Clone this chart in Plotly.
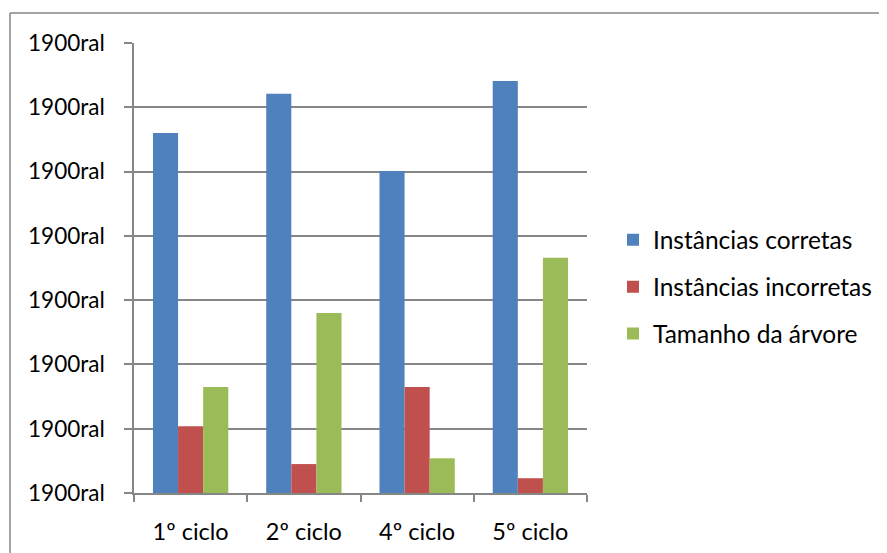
import plotly.graph_objects as go

categories = ["1º ciclo", "2º ciclo", "4º ciclo", "5º ciclo"]
corretas = [5.6, 6.21, 5.01, 6.41]
incorretas = [1.04, 0.45, 1.65, 0.23]
tamanho = [1.65, 2.80, 0.54, 3.66]
tick_vals = [0, 1, 2, 3, 4, 5, 6, 7]
tick_text = ["1900ral"] * 8

FONT = "Lato"
GRID = "#868686"

# page body has an 8px margin; the figure's right/bottom simply fall off-screen
W, H = 887, 553
L, T, R, B = 126, 35, 308, 68
PW, PH = W - L - R, H - T - B

fig = go.Figure()
for name, vals, col, grp in [
    ("Instâncias corretas", corretas, "#4F81BD", "a"),
    ("Instâncias incorretas", incorretas, "#C0504D", "b"),
    ("Tamanho da árvore", tamanho, "#9BBB59", "c"),
]:
    fig.add_trace(go.Bar(x=categories, y=vals, name=name, marker_color=col,
                         marker_line_width=0, legendgroup=grp))

fig.update_layout(
    width=W, height=H,
    margin=dict(l=L, r=R, t=T, b=B, pad=0, autoexpand=False),
    paper_bgcolor="white", plot_bgcolor="white",
    barmode="group", bargap=0.335, bargroupgap=0,
    font=dict(family=FONT, size=22, color="black"),
    legend=dict(x=(605 - L) / PW, xanchor="left", y=0.458, yanchor="middle",
                font=dict(family=FONT, size=24.5, color="black"),
                tracegroupgap=12, itemwidth=30),
    showlegend=True,
    xaxis=dict(showline=True, linecolor=GRID, linewidth=1.5,
               ticks="outside", tickson="boundaries", ticklen=7,
               tickcolor=GRID, tickwidth=1.5, showgrid=False,
               automargin=False,
               tickfont=dict(family=FONT, size=23.5, color="black"),
               ticklabelstandoff=17),
    yaxis=dict(range=[0, 7], tickvals=tick_vals, ticktext=tick_text,
               showline=True, linecolor=GRID, linewidth=1.5,
               ticks="outside", ticklen=8, tickcolor=GRID, tickwidth=1.5,
               showgrid=True, gridcolor=GRID, gridwidth=1.5,
               zeroline=False, ticklabelstandoff=15, automargin=False,
               tickfont=dict(family=FONT, size=22.5, color="black")),
)

# outer chart frame (only top and left edges visible in crop)
fx = (2 - L) / PW
fy = (PH + T - 5) / PH
fig.add_shape(type="line", xref="paper", yref="paper",
              x0=fx, x1=(W - L) / PW, y0=fy, y1=fy,
              line=dict(color="#868686", width=1.5))
fig.add_shape(type="line", xref="paper", yref="paper",
              x0=fx, x1=fx, y0=fy, y1=-B / PH,
              line=dict(color="#868686", width=1.5))

fig.write_html("out.html")
